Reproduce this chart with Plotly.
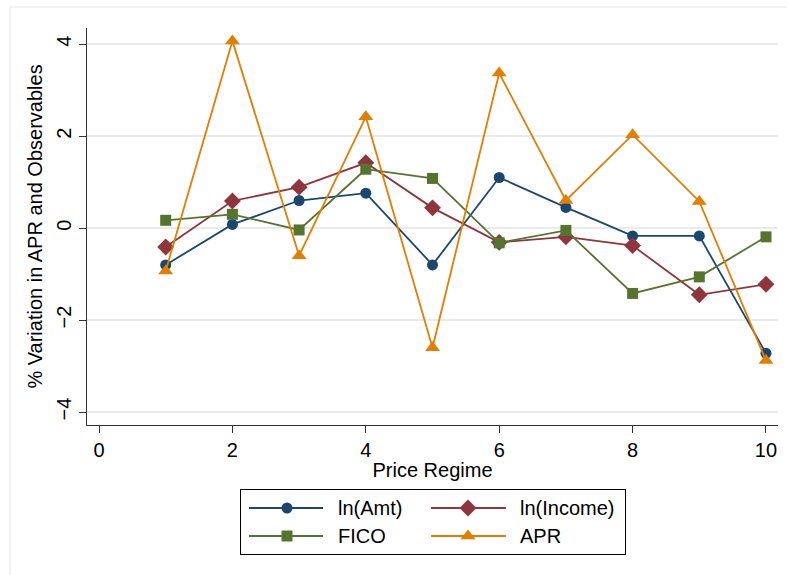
import plotly.graph_objects as go

# Price regimes and the % variation of each series across them
regimes = [1, 2, 3, 4, 5, 6, 7, 8, 9, 10]
ln_amt = [-0.80, 0.08, 0.60, 0.76, -0.80, 1.10, 0.45, -0.17, -0.17, -2.72]
ln_income = [-0.41, 0.59, 0.89, 1.42, 0.44, -0.31, -0.19, -0.38, -1.45, -1.22]
fico = [0.17, 0.30, -0.04, 1.28, 1.08, -0.32, -0.05, -1.42, -1.06, -0.19]
apr = [-0.93, 4.07, -0.60, 2.42, -2.60, 3.37, 0.60, 2.03, 0.58, -2.88]

series_names = ["ln(Amt)", "ln(Income)", "FICO", "APR"]
series_values = [ln_amt, ln_income, fico, apr]
colors = ["#1a476f", "#90353b", "#55752f", "#e37e00"]
symbols = ["circle", "diamond", "square", "triangle-up"]
sizes = [11, 13, 11, 13]

x_ticks = [0, 2, 4, 6, 8, 10]
y_ticks = [-4, -2, 0, 2, 4]

W, H = 787, 575
FONT = "Liberation Sans, Arial, sans-serif"
FS = 20

fig = go.Figure()

for name, vals, c, s, sz in zip(series_names, series_values, colors, symbols, sizes):
    fig.add_trace(go.Scatter(
        x=regimes, y=vals, name=name, mode="lines+markers",
        line=dict(color=c, width=1.8),
        marker=dict(color=c, symbol=s, size=sz, opacity=1, line=dict(width=0)),
        showlegend=False, xaxis="x", yaxis="y",
    ))

# Legend drawn in its own small axes: long key lines with a centred marker
legend_slots = [(8, 46, 82, 95, 46), (190, 227, 265, 277, 46),
                (8, 46, 82, 95, 18), (190, 227, 265, 277, 18)]
for (x0, xm, x1, xt, yy), name, c, s, sz in zip(legend_slots, series_names, colors, symbols, sizes):
    fig.add_trace(go.Scatter(
        x=[x0, x1], y=[yy, yy], mode="lines",
        line=dict(color=c, width=1.8),
        showlegend=False, hoverinfo="skip", xaxis="x2", yaxis="y2",
    ))
    fig.add_trace(go.Scatter(
        x=[xm], y=[yy], mode="markers",
        marker=dict(color=c, symbol=s, size=sz, opacity=1, line=dict(width=0)),
        showlegend=False, hoverinfo="skip", xaxis="x2", yaxis="y2",
    ))
    fig.add_annotation(x=xt, y=yy, xref="x2", yref="y2", text=name,
                       showarrow=False, xanchor="left", yanchor="middle",
                       font=dict(size=FS, color="#000000", family=FONT))

px = lambda v: v / W
py = lambda v: 1 - v / H

fig.update_layout(
    width=W, height=H,
    margin=dict(l=0, r=0, t=0, b=0),
    paper_bgcolor="white", plot_bgcolor="white",
    font=dict(family=FONT, size=FS, color="#000000"),
    xaxis=dict(
        domain=[px(87), px(778)], range=[-0.18, 10.18],
        tickvals=x_ticks, ticks="outside", ticklen=7, tickwidth=1.2, tickcolor="#333333",
        showline=True, linecolor="#333333", linewidth=1.3, showgrid=False, zeroline=False,
        tickfont=dict(size=FS), title=dict(text="Price Regime", font=dict(size=FS), standoff=2),
        anchor="y",
    ),
    yaxis=dict(
        domain=[py(425), py(28)], range=[-4.28, 4.35],
        tickvals=y_ticks, ticks="outside", ticklen=7, tickwidth=1.2, tickcolor="#333333",
        tickangle=-90, showline=True, linecolor="#333333", linewidth=1.3,
        showgrid=True, gridcolor="#eaeaea", gridwidth=1.5, zeroline=False,
        tickfont=dict(size=FS),
        title=dict(text="% Variation in APR and Observables", font=dict(size=FS), standoff=4),
        anchor="x",
    ),
    xaxis2=dict(domain=[px(241), px(625)], range=[0, 384], visible=True,
                showticklabels=False, ticks="", showgrid=False, zeroline=False,
                showline=True, mirror=True, linecolor="#000000", linewidth=1.2,
                anchor="y2", fixedrange=True),
    yaxis2=dict(domain=[py(554), py(490)], range=[0, 64],
                showticklabels=False, ticks="", showgrid=False, zeroline=False,
                showline=True, mirror=True, linecolor="#000000", linewidth=1.2,
                anchor="x2", fixedrange=True),
    shapes=[dict(type="rect", xref="paper", yref="paper",
                 x0=px(10), x1=1.02, y0=-0.02, y1=py(7),
                 line=dict(color="#eeeeee", width=1.5), layer="below")],
)

fig.write_html("out.html")
